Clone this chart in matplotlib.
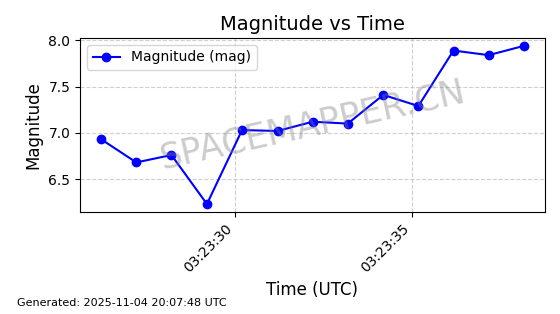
import matplotlib
matplotlib.use("Agg")
import matplotlib.pyplot as plt
import matplotlib.dates as mdates
import pandas as pd

times = pd.to_datetime([
    "2025-11-04 03:23:26.24", "2025-11-04 03:23:27.23", "2025-11-04 03:23:28.22",
    "2025-11-04 03:23:29.22", "2025-11-04 03:23:30.21", "2025-11-04 03:23:31.21",
    "2025-11-04 03:23:32.20", "2025-11-04 03:23:33.19", "2025-11-04 03:23:34.19",
    "2025-11-04 03:23:35.18", "2025-11-04 03:23:36.17", "2025-11-04 03:23:37.16",
    "2025-11-04 03:23:38.15",
])
magnitudes = [6.93, 6.68, 6.76, 6.23, 7.03, 7.02, 7.12, 7.10, 7.41, 7.29, 7.89, 7.84, 7.94]

fig, ax = plt.subplots(figsize=(5.6, 3.14), dpi=100)
fig.subplots_adjust(left=0.143, right=0.973, top=0.879, bottom=0.325)

ax.plot(times, magnitudes, "o-", color="blue", lw=1.5, ms=6, label="Magnitude (mag)")
ax.set_title("Magnitude vs Time", fontsize=14)
ax.set_xlabel("Time (UTC)", fontsize=12)
ax.set_ylabel("Magnitude", fontsize=12)
ax.grid(True, linestyle="--", alpha=0.6)
ax.legend(loc="upper left", fontsize=10)

ax.xaxis.set_major_locator(mdates.SecondLocator(bysecond=range(0, 60, 5)))
ax.xaxis.set_major_formatter(mdates.DateFormatter("%H:%M:%S"))
plt.setp(ax.get_xticklabels(), rotation=45, ha="right")

# watermark
ax.text(0.5, 0.5, "SPACEMAPPER.CN", transform=ax.transAxes, fontsize=25,
        color="gray", alpha=0.4, rotation=12.5, ha="center", va="center")

fig.text(0.03, 0.025, "Generated: 2025-11-04 20:07:48 UTC", fontsize=8)

plt.savefig("out.png", dpi=100)
plt.close()
